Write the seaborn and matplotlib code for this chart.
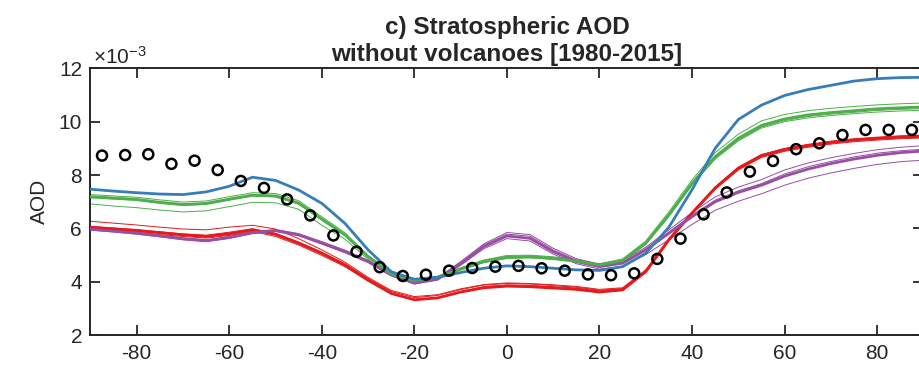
import numpy as np
import pandas as pd
import matplotlib
matplotlib.use("Agg")
import matplotlib.pyplot as plt
import seaborn as sns

# ---------------- data (AOD in units of 1e-3) ----------------
lat = list(range(-90, 91, 5))

blue_mean = [7.47, 7.40, 7.34, 7.29, 7.27, 7.37, 7.58, 7.92, 7.80, 7.44, 6.94, 6.19, 5.20, 4.38, 4.10, 4.17,
             4.35, 4.51, 4.60, 4.57, 4.51, 4.45, 4.43, 4.57, 5.07, 6.05, 7.45, 9.00, 10.08, 10.62, 10.98,
             11.20, 11.36, 11.52, 11.61, 11.65, 11.66]

green_mean = [7.19, 7.14, 7.09, 6.98, 6.90, 6.94, 7.10, 7.25, 7.22, 6.95, 6.35, 5.76, 4.94, 4.30, 4.05, 4.17,
              4.48, 4.76, 4.92, 4.94, 4.88, 4.78, 4.63, 4.80, 5.45, 6.51, 7.69, 8.69, 9.38, 9.86, 10.10,
              10.25, 10.34, 10.41, 10.48, 10.52, 10.55]
green_m1 = [7.27, 7.22, 7.17, 7.07, 6.99, 7.03, 7.19, 7.34, 7.31, 7.04, 6.44, 5.84, 5.00, 4.35, 4.08, 4.21,
            4.53, 4.82, 4.99, 5.00, 4.94, 4.83, 4.68, 4.86, 5.53, 6.62, 7.82, 8.84, 9.53, 10.03, 10.27,
            10.41, 10.50, 10.57, 10.63, 10.67, 10.70]
green_m2 = [6.92, 6.84, 6.78, 6.69, 6.62, 6.66, 6.82, 6.98, 6.96, 6.72, 6.12, 5.60, 4.84, 4.25, 4.02, 4.14,
            4.44, 4.72, 4.88, 4.90, 4.84, 4.74, 4.60, 4.76, 5.40, 6.45, 7.62, 8.60, 9.28, 9.76, 10.00,
            10.14, 10.23, 10.30, 10.36, 10.40, 10.43]
green_m3 = [7.15, 7.10, 7.05, 6.94, 6.86, 6.90, 7.06, 7.21, 7.18, 6.91, 6.31, 5.73, 4.93, 4.30, 4.06, 4.19,
            4.51, 4.79, 4.95, 4.97, 4.91, 4.80, 4.64, 4.80, 5.43, 6.47, 7.64, 8.63, 9.31, 9.80, 10.04,
            10.19, 10.28, 10.35, 10.42, 10.46, 10.49]

red_mean = [6.04, 5.98, 5.92, 5.84, 5.76, 5.70, 5.80, 5.95, 5.78, 5.45, 5.07, 4.63, 4.07, 3.57, 3.33, 3.40,
            3.62, 3.78, 3.84, 3.82, 3.77, 3.72, 3.62, 3.70, 4.38, 5.57, 6.57, 7.51, 8.25, 8.72, 8.95,
            9.10, 9.22, 9.31, 9.37, 9.42, 9.45]
red_m1 = [6.27, 6.20, 6.13, 6.05, 5.98, 5.95, 6.05, 6.12, 5.98, 5.62, 5.20, 4.74, 4.17, 3.68, 3.45, 3.52,
          3.74, 3.90, 3.96, 3.94, 3.89, 3.83, 3.72, 3.78, 4.45, 5.63, 6.62, 7.56, 8.30, 8.77, 9.00,
          9.15, 9.27, 9.36, 9.42, 9.47, 9.50]
red_m2 = [5.98, 5.92, 5.86, 5.77, 5.70, 5.64, 5.74, 5.89, 5.70, 5.38, 4.99, 4.57, 4.03, 3.55, 3.33, 3.41,
          3.64, 3.82, 3.89, 3.87, 3.82, 3.77, 3.66, 3.73, 4.40, 5.57, 6.55, 7.47, 8.19, 8.66, 8.89,
          9.04, 9.16, 9.25, 9.31, 9.36, 9.39]
red_m3 = [6.08, 6.02, 5.96, 5.88, 5.80, 5.75, 5.86, 5.99, 5.82, 5.49, 5.11, 4.68, 4.13, 3.64, 3.41, 3.49,
          3.71, 3.88, 3.94, 3.92, 3.86, 3.80, 3.69, 3.75, 4.42, 5.60, 6.60, 7.54, 8.28, 8.75, 8.98,
          9.13, 9.25, 9.34, 9.40, 9.45, 9.48]

purple_mean = [5.97, 5.90, 5.82, 5.72, 5.61, 5.54, 5.66, 5.84, 5.92, 5.76, 5.45, 5.13, 4.76, 4.26, 3.95, 4.10,
               4.68, 5.32, 5.72, 5.63, 5.13, 4.76, 4.57, 4.70, 5.20, 5.82, 6.44, 7.00, 7.35, 7.62, 7.96,
               8.22, 8.43, 8.60, 8.74, 8.84, 8.90]
purple_m1 = [5.99, 5.92, 5.85, 5.75, 5.65, 5.58, 5.70, 5.88, 5.96, 5.81, 5.51, 5.19, 4.81, 4.30, 3.99, 4.15,
             4.76, 5.42, 5.85, 5.77, 5.26, 4.87, 4.66, 4.78, 5.30, 5.95, 6.60, 7.18, 7.55, 7.83, 8.19,
             8.45, 8.65, 8.81, 8.95, 9.04, 9.10]
purple_m2 = [5.94, 5.87, 5.79, 5.69, 5.58, 5.51, 5.63, 5.81, 5.89, 5.73, 5.42, 5.10, 4.73, 4.23, 3.93, 4.07,
             4.62, 5.24, 5.62, 5.53, 5.04, 4.68, 4.48, 4.58, 5.02, 5.58, 6.15, 6.68, 7.02, 7.30, 7.62,
             7.88, 8.08, 8.25, 8.40, 8.50, 8.56]
purple_m3 = [5.96, 5.89, 5.81, 5.71, 5.60, 5.53, 5.65, 5.83, 5.91, 5.76, 5.46, 5.15, 4.78, 4.28, 3.97, 4.12,
             4.72, 5.38, 5.79, 5.71, 5.20, 4.82, 4.61, 4.73, 5.24, 5.87, 6.50, 7.06, 7.41, 7.68, 8.04,
             8.31, 8.51, 8.68, 8.82, 8.91, 8.97]

obs_lat = [-87.5, -82.5, -77.5, -72.5, -67.5, -62.5, -57.5, -52.5, -47.5, -42.5, -37.5, -32.5,
           -27.5, -22.5, -17.5, -12.5, -7.5, -2.5, 2.5, 7.5, 12.5, 17.5, 22.5, 27.5,
           32.5, 37.5, 42.5, 47.5, 52.5, 57.5, 62.5, 67.5, 72.5, 77.5, 82.5, 87.5]
obs_aod = [8.73, 8.75, 8.78, 8.42, 8.54, 8.19, 7.78, 7.52, 7.09, 6.49, 5.74, 5.13,
           4.55, 4.22, 4.27, 4.42, 4.52, 4.57, 4.60, 4.51, 4.42, 4.28, 4.25, 4.32,
           4.86, 5.62, 6.53, 7.35, 8.13, 8.53, 8.97, 9.19, 9.50, 9.69, 9.69, 9.69]

title = "c) Stratospheric AOD\nwithout volcanoes [1980-2015]"
ylabel = "AOD"
xticks = [-80, -60, -40, -20, 0, 20, 40, 60, 80]
yticks = [2, 4, 6, 8, 10, 12]

colors = {"blue": "#377eb8", "green": "#4daf4a", "red": "#e41a1c", "purple": "#984ea3"}

# ---------------- tidy tables ----------------
means = {"blue": blue_mean, "green": green_mean, "red": red_mean, "purple": purple_mean}
members = {
    "green": [green_m1, green_m2, green_m3],
    "red": [red_m1, red_m2, red_m3],
    "purple": [purple_m1, purple_m2, purple_m3],
}
rows_mean = []
for m, v in means.items():
    for la, a in zip(lat, v):
        rows_mean.append({"lat": la, "aod": a, "model": m})
df_mean = pd.DataFrame(rows_mean)
rows_mem = []
for m, lst in members.items():
    for i, v in enumerate(lst):
        for la, a in zip(lat, v):
            rows_mem.append({"lat": la, "aod": a, "model": m, "member": f"{m}{i}"})
df_mem = pd.DataFrame(rows_mem)

# ---------------- plotting ----------------
sns.set_theme(style="ticks")
plt.rcParams["font.family"] = ["Liberation Sans", "DejaVu Sans"]
plt.rcParams["axes.unicode_minus"] = False
plt.rcParams["mathtext.fontset"] = "custom"
plt.rcParams["mathtext.rm"] = "Liberation Sans"
plt.rcParams["mathtext.it"] = "Liberation Sans"

fig = plt.figure(figsize=(9.2, 3.67), dpi=100)
ax = fig.add_axes([0.0983, 0.0864, 0.9054, 0.7276])

sns.lineplot(data=df_mem, x="lat", y="aod", hue="model", units="member", estimator=None,
             palette=colors, linewidth=0.7, legend=False, ax=ax, zorder=2)
sns.lineplot(data=df_mean, x="lat", y="aod", hue="model", estimator=None,
             palette=colors, linewidth=2.0, legend=False, ax=ax, zorder=3,
             hue_order=["red", "purple", "green", "blue"])
sns.scatterplot(x=obs_lat, y=obs_aod, marker="o", s=52, facecolor="none",
                edgecolor="black", linewidth=1.8, ax=ax, zorder=5)

ax.set_xlim(-90, 90)
ax.set_ylim(2, 12)
ax.set_xticks(xticks)
ax.set_yticks(yticks)
ax.set_xlabel("")
ax.set_ylabel(ylabel, fontsize=15, labelpad=7, color="#262626")
ax.tick_params(direction="in", length=7, width=1.3, top=True, right=True,
               labelsize=15, colors="#262626", pad=6)
for s in ax.spines.values():
    s.set_linewidth(1.4)
    s.set_color("#262626")
ax.set_title(title, fontsize=17.5, fontweight="bold", pad=5, linespacing=1.25)
ax.text(0.003, 1.0, r"$\times$10$^{-3}$", transform=ax.transAxes, fontsize=15,
        ha="left", va="bottom", color="#262626")

fig.savefig("out.png", dpi=100)
